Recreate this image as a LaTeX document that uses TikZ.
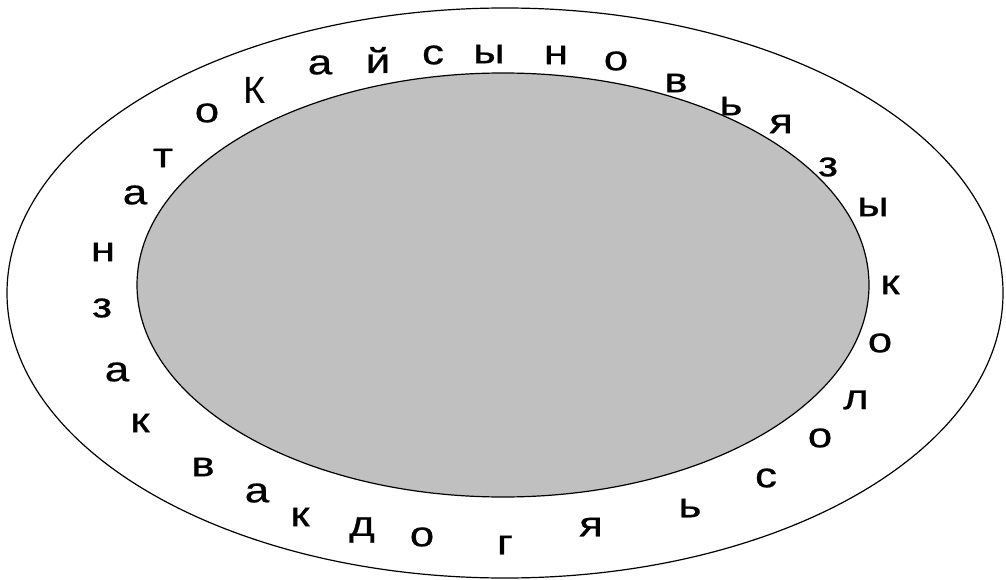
\documentclass[tikz,border=0pt]{standalone}
\usepackage{fontspec}
\setmainfont{Liberation Sans}
\newfontfamily\ringfont[FakeBold=0.6]{Liberation Sans}
\definecolor{disc}{RGB}{192,192,192}
\tikzset{letter/.style={inner sep=0pt, xscale=1.25, transform shape,
    font=\ringfont\fontsize{35}{35}\selectfont}}
\begin{document}
\begin{tikzpicture}[x=1pt,y=-1pt]
    \useasboundingbox (0,0) rectangle (1006,580);
    \draw[line width=1.2pt] (505,293) ellipse [x radius=498, y radius=285];
    \draw[line width=1.2pt, fill=disc] (503,285) ellipse [x radius=366, y radius=212];
    % letters round the ring
    \foreach \ch/\x/\y [count=\i] in {н/103/252, а/135/195, т/163/158, о/207/113,
        а/320/65, й/378/60, с/433/55, ы/489/54, н/556/55, о/616/61, в/676/83,
        ь/731/106, я/781/124, з/828/167, ы/873/207, к/890/285, о/880/343,
        л/856/400, о/820/438, с/766/478, ь/690/508, я/591/527, г/505/545,
        о/422/537, д/362/530, к/300/517, а/257/493, в/203/467, к/140/423,
        а/117/372, з/102/308}
        \node[letter] (l\i) at (\x,\y) {\ch};
    \node[inner sep=0pt, font=\fontsize{38}{38}\selectfont] (cap) at (255,90) {К};
\end{tikzpicture}
\end{document}
